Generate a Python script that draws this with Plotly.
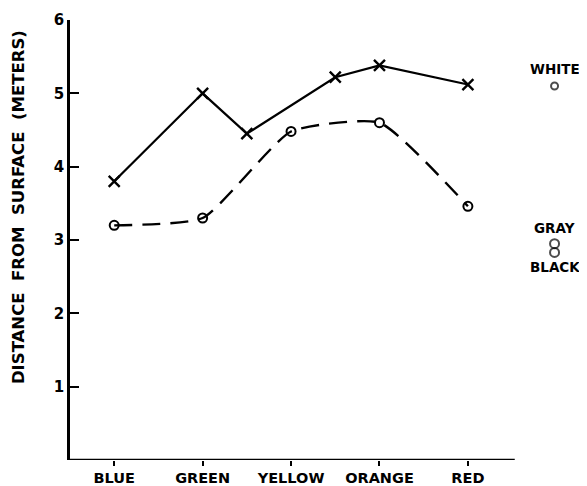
import plotly.graph_objects as go

categories = ["BLUE", "GREEN", "YELLOW", "ORANGE", "RED"]
cat_pos = [0, 1, 2, 3, 4]

# Solid line with X markers (includes intermediate points)
x_series_pos = [0, 1, 1.5, 2.5, 3, 4]
x_series_val = [3.8, 5.0, 4.45, 5.22, 5.38, 5.12]

# Dashed line with open circles
o_series_val = [3.2, 3.3, 4.48, 4.6, 3.46]

# Reference points at right
ref_labels = ["WHITE", "GRAY", "BLACK"]
ref_vals = [5.1, 2.95, 2.83]
ref_pos = 4.98

y_ticks = [1, 2, 3, 4, 5, 6]

FONT = "DejaVu Sans"
X_MIN, X_AXIS_END, X_MAX = -0.5, 4.53, 5.2

fig = go.Figure()

fig.add_trace(go.Scatter(
    x=x_series_pos, y=x_series_val, mode="lines+markers",
    line=dict(color="black", width=2.2),
    marker=dict(symbol="x-thin", size=11, line=dict(color="black", width=2.4)),
    showlegend=False, cliponaxis=False))

fig.add_trace(go.Scatter(
    x=cat_pos, y=o_series_val, mode="lines+markers",
    line=dict(color="black", width=2.4, dash="18px,10px", shape="spline", smoothing=0.5),
    marker=dict(symbol="circle-open", size=9, color="black", line=dict(color="black", width=2)),
    showlegend=False, cliponaxis=False))

fig.add_trace(go.Scatter(
    x=[ref_pos] * 3, y=ref_vals, mode="markers",
    marker=dict(symbol="circle-open", size=[7, 9, 9], color="black", line=dict(color="black", width=2)),
    showlegend=False, cliponaxis=False))

# labels for reference points
fig.add_annotation(x=ref_pos, y=ref_vals[0], xref="x", yref="y", text="<b>" + ref_labels[0] + "</b>",
                   showarrow=False, yshift=17, font=dict(family=FONT, size=13.5, color="black"))
fig.add_annotation(x=ref_pos, y=ref_vals[1], xref="x", yref="y", text="<b>" + ref_labels[1] + "</b>",
                   showarrow=False, yshift=16, font=dict(family=FONT, size=13.5, color="black"))
fig.add_annotation(x=ref_pos, y=ref_vals[2], xref="x", yref="y", text="<b>" + ref_labels[2] + "</b>",
                   showarrow=False, yshift=-15, font=dict(family=FONT, size=13.5, color="black"))

# y-axis title
fig.add_annotation(x=-0.103, y=0.575, xref="paper", yref="paper", xanchor="center", yanchor="middle",
                   text="<b>DISTANCE  FROM  SURFACE  (METERS)</b>", textangle=-90, showarrow=False,
                   font=dict(family=FONT, size=16.5, color="black"))

# x axis baseline (stops short of the reference points)
fig.add_shape(type="line", xref="x", yref="y", x0=X_MIN, x1=X_AXIS_END, y0=0, y1=0,
              line=dict(color="black", width=2.5))

fig.update_xaxes(range=[X_MIN, X_MAX], tickvals=cat_pos,
                 ticktext=["<b>" + c + "</b>" for c in categories],
                 showline=False, automargin=False,
                 ticks="outside", ticklen=5, tickwidth=2, tickcolor="black",
                 showgrid=False, zeroline=False,
                 tickfont=dict(family=FONT, size=14.5, color="black"))
fig.update_yaxes(range=[0, 6], tickvals=y_ticks,
                 ticktext=["<b>" + str(t) + "</b>" for t in y_ticks], automargin=False,
                 showline=True, linecolor="black", linewidth=2.5,
                 ticks="inside", ticklen=9, tickwidth=2, tickcolor="black",
                 showgrid=False, zeroline=False,
                 tickfont=dict(family=FONT, size=15, color="black"))

fig.update_layout(width=579, height=478, margin=dict(l=62, r=13, t=12, b=26),
                  plot_bgcolor="white", paper_bgcolor="white",
                  font=dict(family=FONT, color="black"))

fig.write_html("out.html")
